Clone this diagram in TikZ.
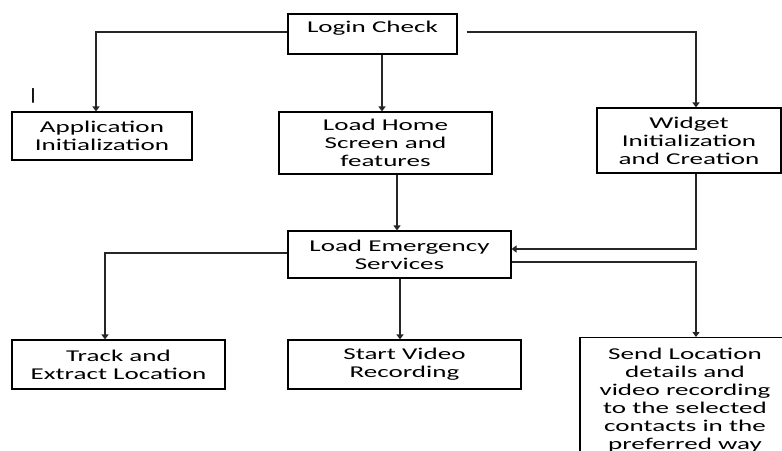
\documentclass[tikz,border=0pt]{standalone}
\usepackage{fontspec}
\setmainfont{Carlito}[FakeStretch=1.64]
\usetikzlibrary{arrows.meta}
\begin{document}
\begin{tikzpicture}[x=1pt,y=-1pt,
  box/.style={draw=black,line width=1.1pt,rectangle,inner sep=0pt,align=center,
    font=\fontsize{16.5pt}{18pt}\selectfont},
  conn/.style={line width=1.2pt,draw=black!85},
  arr/.style={conn,-{Triangle[width=7pt,length=5pt]}}]
\clip (0,0) rectangle (782,450);
\fill[white] (0,0) rectangle (782,450);

\node[box,minimum width=169pt,text height=18.3pt,text depth=21.7pt] (login) at (372.5,34) {Login Check};
\node[box,minimum width=180pt,minimum height=48pt] (app) at (102,136) {Application\\Initialization};
\node[box,minimum width=213pt,minimum height=62pt] (home) at (385.5,143) {Load Home\\Screen and\\features};
\node[box,minimum width=184pt,minimum height=65pt] (widget) at (689,140.5) {Widget\\Initialization\\and Creation};
\node[box,minimum width=223pt,minimum height=47pt] (emerg) at (399.5,254.5) {Load Emergency\\Services};
\node[box,minimum width=213pt,minimum height=49pt] (track) at (118.5,364.5) {Track and\\Extract Location};
\node[box,minimum width=233pt,minimum height=49pt] (video) at (404.5,364.5) {Start Video\\Recording};
\node[box,minimum width=210pt,minimum height=125pt,anchor=north] (send) at (685,337) {Send Location\\details and\\video recording\\to the selected\\contacts in the\\preferred way};
\node[inner sep=0pt,font=\fontsize{16.5pt}{18pt}\selectfont] (tick) at (33,96) {|};

% connectors
\coordinate (appIn) at ([xshift=-6pt]app.north);
\draw[arr] ([yshift=2pt]login.west) -| (appIn);

\coordinate (homeIn) at ([xshift=-3.5pt]home.north);
\draw[arr] (login.south -| homeIn) -- (homeIn);

\coordinate (widIn) at ([xshift=7pt]widget.north);
\draw[arr] ([xshift=9pt,yshift=2pt]login.east) -| (widIn);

\coordinate (emIn) at ([xshift=-2.5pt]emerg.north);
\draw[arr] (home.south -| emIn) -- (emIn);

\coordinate (emR) at ([yshift=5.5pt]emerg.east);
\draw[arr] (widIn |- widget.south) |- (emR);

\coordinate (sendIn) at ([xshift=11pt]send.north);
\draw[arr] ([yshift=-7.5pt]emerg.east) -| (sendIn);

\coordinate (trackIn) at ([xshift=-13.5pt]track.north);
\draw[arr] ([yshift=1.5pt]emerg.west) -| (trackIn);

\coordinate (videoIn) at ([xshift=-4.5pt]video.north);
\draw[arr] (emerg.south -| videoIn) -- (videoIn);
\end{tikzpicture}
\end{document}
